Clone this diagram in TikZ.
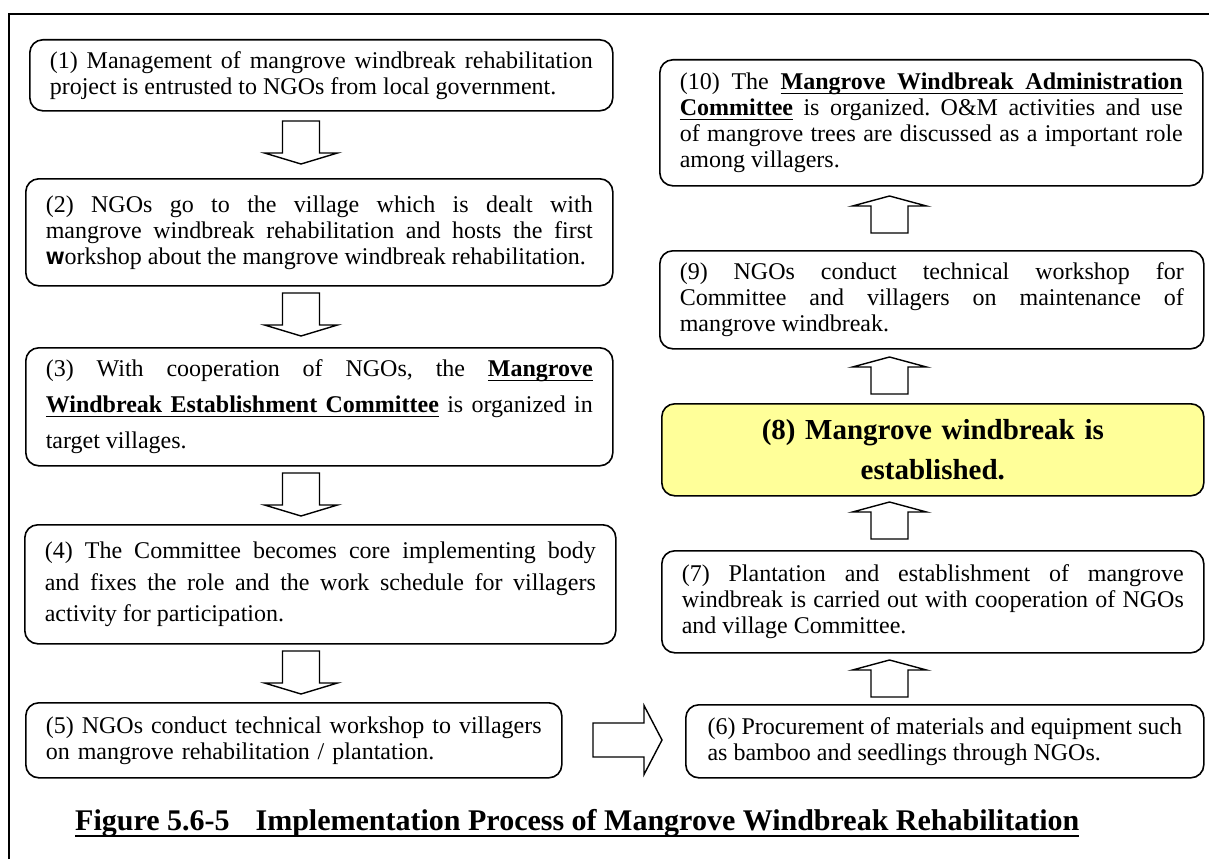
\documentclass[tikz,border=0pt]{standalone}
\usepackage{fontspec}
\setmainfont{Liberation Serif}
\newfontfamily\oddfont{DejaVu Sans}
% bold underlined terms; the gap between them stretches with the line
\newcommand{\keyterm}[1]{\setbox0\hbox{\bfseries #1}\rlap{\vrule height -3pt depth 4.8pt width \wd0}\box0\relax}
\newcommand{\ulgap}{{\bfseries\leaders\hrule height -3pt depth 4.8pt\hskip\fontdimen2\font plus\fontdimen3\font minus\fontdimen4\font}}
\tolerance=9999
\hbadness=10000
\frenchspacing

\begin{document}
\begin{tikzpicture}[x=1pt,y=-1pt]
        \tikzstyle{stage}=[draw, line width=1.6pt, rounded corners=13pt, inner xsep=20pt, inner ysep=0pt, align=justify, anchor=north west, font=\fontsize{24}{26}\selectfont]
        \tikzset{
          downstep/.pic={\draw[line width=1.4pt, line join=miter] (0,-18.5) -- (32,-18.5) -- (32,-36.5) -- (43,0) -- (32,36.5) -- (32,18.5) -- (0,18.5) -- cycle;},
          upstep/.pic={\draw[line width=1.4pt, line join=miter] (0,-18.5) -- (27,-18.5) -- (27,-37) -- (37,0) -- (27,37) -- (27,18.5) -- (0,18.5) -- cycle;},
          sidestep/.pic={\draw[line width=1.4pt, line join=miter] (0,-17) -- (51,-17) -- (51,-34.5) -- (69,0) -- (51,34.5) -- (51,17) -- (0,17) -- cycle;}
        }
        \useasboundingbox (0,0) rectangle (1209,859);
        \draw[line width=1.6pt] (9,859) -- (9,14) -- (1209,14);

        % left column, top to bottom
        \node[stage, text width=543pt, minimum height=71pt] (s1) at (29,39) {(1) Management of mangrove windbreak rehabilitation\linebreak project is entrusted to NGOs from local government.};
        \node[stage, text width=547pt, minimum height=107pt] (s2) at (25,178) {(2) NGOs go to the village which is dealt with\linebreak mangrove windbreak rehabilitation and hosts the first\linebreak {\oddfont\bfseries\fontsize{17}{26}\selectfont W}orkshop about the mangrove windbreak rehabilitation.};
        \node[stage, text width=547pt, minimum height=118pt, font=\fontsize{24}{36}\selectfont] (s3) at (25,347) {(3) With cooperation of NGOs, the \keyterm{Mangrove}\linebreak \keyterm{Windbreak}\ulgap\keyterm{Establishment}\ulgap\keyterm{Committee} is organized in\linebreak target villages.};
        \node[stage, text width=551pt, minimum height=119pt, font=\fontsize{24}{31.5}\selectfont] (s4) at (24,524) {(4) The Committee becomes core implementing body\linebreak and fixes the role and the work schedule for villagers\linebreak activity for participation.};
        \node[stage, text width=496pt, minimum height=75pt, align=left] (s5) at (25,702) {(5) NGOs conduct technical workshop to villagers\\on mangrove rehabilitation / plantation.};

        % right column, bottom to top
        \node[stage, minimum width=518pt, minimum height=73pt, align=left, inner xsep=10pt] (s6) at (685,704) {(6) Procurement of materials and equipment such\\as bamboo and seedlings through NGOs.};
        \node[stage, text width=502pt, minimum height=102pt] (s7) at (661,550) {(7) Plantation and establishment of mangrove\linebreak windbreak is carried out with cooperation of NGOs\linebreak and village Committee.};
        \node[stage, text width=502pt, minimum height=92pt, align=center, fill={rgb,255:red,255;green,255;blue,153}, font=\bfseries\fontsize{29}{40}\selectfont] (s8) at (661,403) {(8) Mangrove windbreak is\\established.};
        \node[stage, text width=504pt, minimum height=98pt] (s9) at (659,250) {(9) NGOs conduct technical workshop for\linebreak Committee and villagers on maintenance of\linebreak mangrove windbreak.};
        \node[stage, text width=503pt, minimum height=126pt] (s10) at (659,59) {(10) The \keyterm{Mangrove}\ulgap\keyterm{Windbreak}\ulgap\keyterm{Administration}\linebreak \keyterm{Committee} is organized. O\&M activities and use\linebreak of mangrove trees are discussed as a important role\linebreak among villagers.};

        % block arrows
        \pic[rotate=-90] at (301,121) {downstep};
        \pic[rotate=-90] at (301,293) {downstep};
        \pic[rotate=-90] at (301,473) {downstep};
        \pic[rotate=-90] at (301,651) {downstep};
        \pic at (593,740) {sidestep};
        \pic[rotate=90] at (889.5,697) {upstep};
        \pic[rotate=90] at (889.5,539) {upstep};
        \pic[rotate=90] at (889.5,394) {upstep};
        \pic[rotate=90] at (889.5,233) {upstep};

        \node[anchor=base west, inner sep=0pt, font=\bfseries\fontsize{30}{34}\selectfont] (caption) at (75,830) {Figure 5.6-5\hspace{26pt}Implementation Process of Mangrove Windbreak Rehabilitation};
        \draw[line width=2.8pt] ([yshift=-6pt]caption.base west) -- ([yshift=-6pt]caption.base east);
\end{tikzpicture}
\end{document}
